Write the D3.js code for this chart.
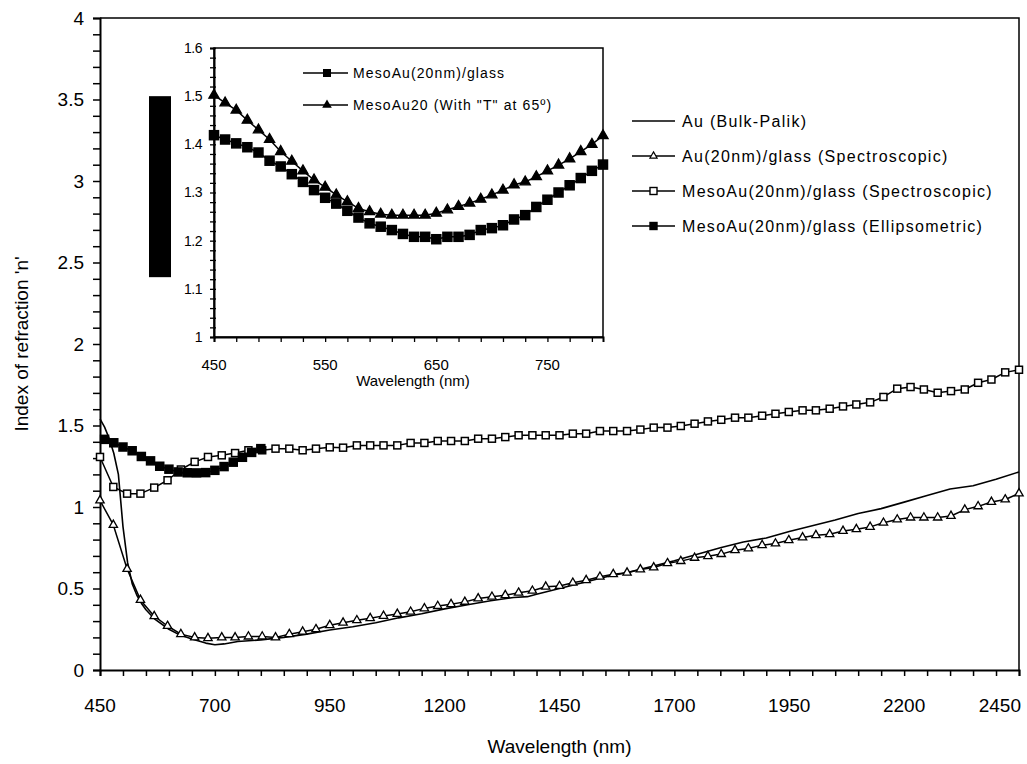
<!DOCTYPE html>
<html>
<head>
<meta charset="utf-8">
<script src="https://cdn.jsdelivr.net/npm/d3@7"></script>
<style>
  body { margin: 0; background: #fff; }
  svg { display: block; font-family: "Liberation Sans", Arial, sans-serif; }
</style>
</head>
<body>
<svg id="chart" width="1027" height="764"></svg>
<script>
// ---------------- DATA ----------------
const mainXTicks = [450, 700, 950, 1200, 1450, 1700, 1950, 2200, 2450];
const mainYTicks = [0, 0.5, 1, 1.5, 2, 2.5, 3, 3.5, 4];
const insetXTicks = [450, 550, 650, 750];
const insetYTicks = [1, 1.1, 1.2, 1.3, 1.4, 1.5, 1.6];

const seriesNames = [
  "Au (Bulk-Palik)",
  "Au(20nm)/glass (Spectroscopic)",
  "MesoAu(20nm)/glass (Spectroscopic)",
  "MesoAu(20nm)/glass (Ellipsometric)"
];
const insetNames = ["MesoAu(20nm)/glass", "MesoAu20 (With \"T\" at 65º)"];

// Au bulk (Palik) - plain line
const bulkWl = [450,460,470,480,490,500,510,520,530,540,550,570,600,620,650,680,700,720,750,800,
  850,900,950,1000,1050,1100,1150,1200,1250,1300,1350,1380,1400,1450,1500,1550,1600,1650,1700,1750,
  1800,1850,1900,1950,2000,2050,2100,2150,2200,2250,2300,2350,2400,2450];
const bulkN = [1.54,1.49,1.42,1.33,1.20,0.88,0.66,0.53,0.46,0.41,0.37,0.31,0.25,0.22,0.19,0.165,0.155,0.16,0.175,0.185,
  0.20,0.22,0.245,0.265,0.29,0.32,0.345,0.375,0.40,0.425,0.445,0.45,0.465,0.50,0.535,0.57,0.60,0.635,0.67,0.71,
  0.75,0.785,0.81,0.85,0.885,0.92,0.96,0.99,1.03,1.07,1.11,1.13,1.17,1.215];

// Spectroscopic wavelengths (shared by the two spectroscopic series)
const specWl = [450,479,509,538,568,597,626,656,685,715,744,773,803,832,862,891,920,950,979,1009,
  1038,1067,1097,1126,1156,1185,1214,1244,1273,1303,1332,1361,1391,1420,1450,1479,1508,1538,1567,1597,
  1626,1655,1685,1714,1744,1773,1802,1832,1861,1891,1920,1949,1979,2008,2038,2067,2096,2126,2155,2185,
  2214,2243,2273,2302,2332,2361,2390,2420,2450];
// Au(20nm)/glass spectroscopic - open triangles
const auFilmN = [1.04,0.89,0.62,0.43,0.33,0.27,0.22,0.20,0.195,0.20,0.20,0.205,0.205,0.20,0.22,0.235,0.25,0.275,0.29,0.305,
  0.318,0.332,0.344,0.357,0.378,0.392,0.404,0.418,0.439,0.449,0.459,0.474,0.486,0.511,0.515,0.535,0.551,0.572,0.588,0.597,
  0.617,0.629,0.655,0.668,0.688,0.698,0.711,0.735,0.745,0.766,0.776,0.796,0.813,0.827,0.833,0.853,0.864,0.878,0.903,0.923,
  0.935,0.935,0.935,0.945,0.984,1.004,1.031,1.046,1.083];
// MesoAu(20nm)/glass spectroscopic - open squares
const mesoSpecN = [1.307,1.123,1.082,1.082,1.119,1.164,1.23,1.277,1.307,1.317,1.331,1.348,1.348,1.358,1.358,1.348,1.358,1.366,1.364,1.378,
  1.378,1.378,1.378,1.393,1.393,1.405,1.405,1.405,1.419,1.419,1.429,1.440,1.440,1.440,1.440,1.450,1.450,1.466,1.466,1.466,
  1.475,1.487,1.487,1.497,1.511,1.525,1.535,1.548,1.548,1.560,1.572,1.583,1.593,1.593,1.603,1.617,1.629,1.642,1.675,1.726,
  1.736,1.721,1.701,1.711,1.721,1.762,1.782,1.826,1.842];

// MesoAu(20nm)/glass ellipsometric - filled squares (main plot)
const ellipWl = [460,480,500,520,540,560,580,600,620,640,660,680,700,720,740,760,780,800];
const ellipN = [1.415,1.394,1.368,1.345,1.31,1.283,1.25,1.232,1.215,1.21,1.209,1.211,1.225,1.248,1.275,1.305,1.335,1.358];

// Inset data
const insetWl = [450,460,470,480,490,500,510,520,530,540,550,560,570,580,590,600,610,620,630,640,
  650,660,670,680,690,700,710,720,730,740,750,760,770,780,790,800];
const insetMesoN = [1.419,1.410,1.402,1.394,1.383,1.366,1.354,1.338,1.322,1.305,1.289,1.277,1.262,1.248,1.236,1.229,1.222,1.214,1.208,1.208,
  1.203,1.208,1.208,1.212,1.222,1.226,1.232,1.244,1.253,1.27,1.285,1.30,1.315,1.33,1.345,1.358];
const insetTN = [1.502,1.486,1.471,1.450,1.430,1.410,1.385,1.365,1.345,1.326,1.311,1.295,1.281,1.267,1.260,1.255,1.253,1.253,1.253,1.253,
  1.257,1.264,1.271,1.278,1.286,1.295,1.305,1.316,1.322,1.333,1.345,1.357,1.37,1.385,1.40,1.418];

// ---------------- DRAW ----------------
const svg = d3.select("#chart");
const M = { left: 100, right: 1019, top: 18, bottom: 670 };
const x = d3.scaleLinear().domain([450, 2450]).range([M.left, M.right]);
const y = d3.scaleLinear().domain([0, 4]).range([M.bottom, M.top]);

const I = { left: 214, right: 603, top: 48, bottom: 337 };
const xi = d3.scaleLinear().domain([450, 800]).range([I.left, I.right]);
const yi = d3.scaleLinear().domain([1, 1.6]).range([I.bottom, I.top]);

const black = "#000";

// main frame (top & right)
svg.append("path")
  .attr("d", `M${M.left},${M.top}H${M.right}V${M.bottom}`)
  .attr("fill", "none").attr("stroke", black).attr("stroke-width", 1.5);

// main y axis
const yMinor = d3.range(0, 41).map(d => d / 10);
const gy = svg.append("g").attr("transform", `translate(${M.left},0)`)
  .call(d3.axisLeft(y).tickValues(yMinor).tickSize(7).tickFormat(""));
gy.selectAll("path,line").attr("stroke", black).attr("stroke-width", 1.5);
gy.select(".domain").attr("stroke-width", 2);
svg.append("g").selectAll("text").data(mainYTicks).join("text")
  .attr("x", M.left - 16).attr("y", d => y(d)).attr("dy", "0.35em")
  .attr("text-anchor", "end").attr("font-size", 19).text(d => d);

// main x axis
const xMinor = d3.range(450, 2451, 50);
const gx = svg.append("g").attr("transform", `translate(0,${M.bottom})`)
  .call(d3.axisBottom(x).tickValues(xMinor).tickSize(6).tickFormat(""));
gx.selectAll("path,line").attr("stroke", black).attr("stroke-width", 1.5);
gx.select(".domain").attr("stroke-width", 2);
svg.append("g").selectAll("text").data(mainXTicks).join("text")
  .attr("x", d => d === 2450 ? x(d) + 2 : x(d)).attr("y", M.bottom + 42)
  .attr("text-anchor", d => d === 2450 ? "end" : "middle")
  .attr("font-size", 19).text(d => d);

// axis titles
svg.append("text").attr("x", (M.left + M.right) / 2).attr("y", 753)
  .attr("text-anchor", "middle").attr("font-size", 19).text("Wavelength (nm)");
svg.append("text").attr("transform", `translate(28,${(M.top + M.bottom) / 2}) rotate(-90)`)
  .attr("text-anchor", "middle").attr("font-size", 19).text("Index of refraction 'n'");

// main series
const zip = (a, b) => a.map((v, i) => [v, b[i]]);

const bulk = zip(bulkWl, bulkN);
const film = zip(specWl, auFilmN);
const mesoSpec = zip(specWl, mesoSpecN);
const ellip = zip(ellipWl, ellipN);

function drawLine(data, xs, ys, w) {
  svg.append("path").datum(data)
    .attr("d", d3.line().x(d => xs(d[0])).y(d => ys(d[1])))
    .attr("fill", "none").attr("stroke", black).attr("stroke-width", w || 1.5)
    .attr("stroke-linejoin", "round");
}
const triSym = (s) => d3.symbol().type(d3.symbolTriangle).size(s)();

function drawSquares(data, xs, ys, side, filled) {
  svg.append("g").selectAll("rect").data(data).join("rect")
    .attr("x", d => xs(d[0]) - side / 2).attr("y", d => ys(d[1]) - side / 2)
    .attr("width", side).attr("height", side)
    .attr("fill", filled ? black : "#fff").attr("stroke", black).attr("stroke-width", 1.5);
}
function drawTriangles(data, xs, ys, size, filled) {
  svg.append("g").selectAll("path").data(data).join("path")
    .attr("transform", d => `translate(${xs(d[0])},${ys(d[1])})`)
    .attr("d", triSym(size))
    .attr("fill", filled ? black : "#fff").attr("stroke", black).attr("stroke-width", 1.3);
}

drawLine(bulk, x, y, 1.6);
drawLine(film, x, y, 1.5);
drawTriangles(film, x, y, 30, false);
drawLine(mesoSpec, x, y, 1.5);
drawSquares(mesoSpec, x, y, 7, false);
drawLine(ellip, x, y, 1.5);
drawSquares(ellip, x, y, 8, true);

// main legend
const legY = [121, 156, 191, 226];
const legX0 = 632, legX1 = 675;
seriesNames.forEach((name, i) => {
  svg.append("line").attr("x1", legX0).attr("x2", legX1).attr("y1", legY[i]).attr("y2", legY[i])
    .attr("stroke", black).attr("stroke-width", 1.6);
  const mx = (legX0 + legX1) / 2;
  if (i === 1) {
    svg.append("path").attr("transform", `translate(${mx},${legY[i]})`).attr("d", triSym(22))
      .attr("fill", "#fff").attr("stroke", black).attr("stroke-width", 1.2);
  } else if (i === 2) {
    svg.append("rect").attr("x", mx - 3.5).attr("y", legY[i] - 3.5).attr("width", 7).attr("height", 7)
      .attr("fill", "#fff").attr("stroke", black).attr("stroke-width", 1.4);
  } else if (i === 3) {
    svg.append("rect").attr("x", mx - 3.5).attr("y", legY[i] - 3.5).attr("width", 7).attr("height", 7)
      .attr("fill", black).attr("stroke", black).attr("stroke-width", 1.4);
  }
  svg.append("text").attr("x", 682).attr("y", legY[i]).attr("dy", "0.35em")
    .attr("font-size", 16).attr("letter-spacing", 1.3).text(name);
});

// ---------------- INSET ----------------
svg.append("rect").attr("x", I.left).attr("y", I.top)
  .attr("width", I.right - I.left).attr("height", I.bottom - I.top)
  .attr("fill", "#fff").attr("stroke", black).attr("stroke-width", 1.5);

// decorative black bar to the left of the inset
svg.append("rect").attr("x", 149).attr("y", yi(1.5)).attr("width", 22).attr("height", 181)
  .attr("fill", black);

const yiMinor = d3.range(0, 31).map(d => 1 + d / 50);
const giy = svg.append("g").attr("transform", `translate(${I.left},0)`)
  .call(d3.axisLeft(yi).tickValues(yiMinor).tickSize(4).tickFormat(""));
giy.selectAll("line").attr("stroke", black).attr("stroke-width", 1.3).attr("x2", -4).attr("x1", 2);
giy.select(".domain").attr("stroke", black).attr("stroke-width", 2);
svg.append("g").selectAll("text").data(insetYTicks).join("text")
  .attr("x", I.left - 12).attr("y", d => yi(d)).attr("dy", "0.35em")
  .attr("text-anchor", "end").attr("font-size", 14).attr("letter-spacing", -0.5)
  .text(d => d);

const xiMinor = d3.range(450, 801, 20);
const gix = svg.append("g").attr("transform", `translate(0,${I.bottom})`)
  .call(d3.axisBottom(xi).tickValues(xiMinor).tickSize(5).tickFormat(""));
gix.selectAll("line").attr("stroke", black).attr("stroke-width", 1.3);
gix.select(".domain").attr("stroke", black).attr("stroke-width", 2);
svg.append("g").selectAll("text").data(insetXTicks).join("text")
  .attr("x", d => xi(d)).attr("y", I.bottom + 33)
  .attr("text-anchor", "middle").attr("font-size", 15).text(d => d);
svg.append("text").attr("x", 413).attr("y", I.bottom + 49)
  .attr("text-anchor", "middle").attr("font-size", 15).text("Wavelength (nm)");

const insetMeso = zip(insetWl, insetMesoN);
const insetT = zip(insetWl, insetTN);
drawLine(insetT, xi, yi, 1.5);
drawTriangles(insetT, xi, yi, 45, true);
drawLine(insetMeso, xi, yi, 1.5);
drawSquares(insetMeso, xi, yi, 9, true);

// inset legend
const ilegY = [73, 105];
insetNames.forEach((name, i) => {
  svg.append("line").attr("x1", 303).attr("x2", 348).attr("y1", ilegY[i]).attr("y2", ilegY[i])
    .attr("stroke", black).attr("stroke-width", 1.5);
  if (i === 0) {
    svg.append("rect").attr("x", 327 - 4).attr("y", ilegY[i] - 4).attr("width", 8).attr("height", 8)
      .attr("fill", black);
  } else {
    svg.append("path").attr("transform", `translate(327,${ilegY[i]})`).attr("d", triSym(40))
      .attr("fill", black);
  }
  svg.append("text").attr("x", 353).attr("y", ilegY[i]).attr("dy", "0.35em")
    .attr("font-size", 14).attr("letter-spacing", 1.1).text(name);
});
</script>
</body>
</html>
